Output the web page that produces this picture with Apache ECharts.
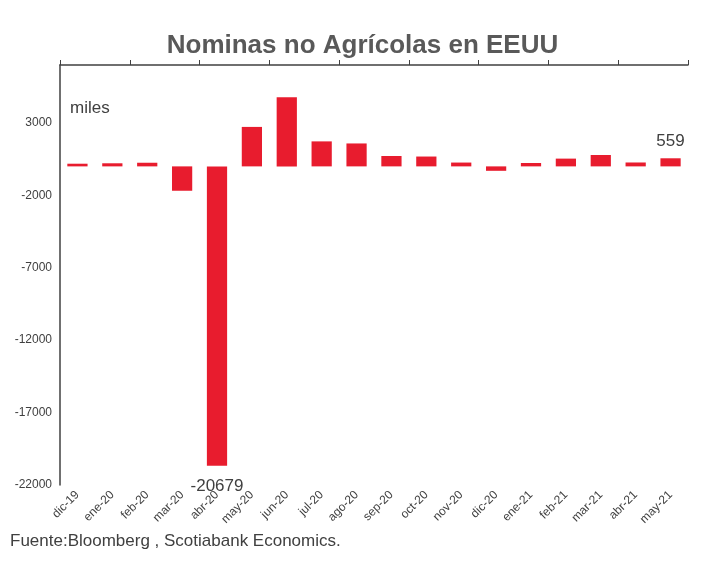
<!DOCTYPE html>
<html>
<head>
<meta charset="utf-8">
<script src="https://cdn.jsdelivr.net/npm/echarts@6/dist/echarts.min.js"></script>
<style>html,body{margin:0;padding:0;background:#fff}#main{width:725px;height:567px}</style>
</head>
<body>
<div id="main"></div>
<script>
var myChart = echarts.init(document.getElementById('main'));
var categories = ['dic-19','ene-20','feb-20','mar-20','abr-20','may-20','jun-20','jul-20','ago-20','sep-20','oct-20','nov-20','dic-20','ene-21','feb-21','mar-21','abr-21','may-21'];
var values = [184, 214, 251, -1683, -20679, 2725, 4781, 1726, 1583, 716, 680, 264, -306, 233, 536, 785, 269, 559];
var labelled = ['abr-20', 'may-21']; // solo estos llevan etiqueta

var seriesData = values.map(function (v, i) {
    var item = { value: v };
    if (labelled.indexOf(categories[i]) >= 0) {
        item.label = {
            show: true,
            position: v < 0 ? 'bottom' : 'top',
            distance: v < 0 ? 12 : 8,
            color: '#404040',
            fontSize: 17,
            fontFamily: 'Liberation Sans'
        };
    }
    return item;
});

option = {
    animation: false,
    title: {
        text: 'Nominas no Agrícolas en EEUU',
        left: 'center',
        top: 28,
        textStyle: { color: '#595959', fontSize: 26, fontWeight: 'bold', fontFamily: 'Liberation Sans' }
    },
    graphic: [
        { type: 'text', left: 70, top: 100, style: { text: 'miles', fill: '#404040', font: '17px Liberation Sans' } },
        { type: 'text', left: 10, top: 533, style: { text: 'Fuente:Bloomberg , Scotiabank Economics.', fill: '#404040', font: '17px Liberation Sans' } }
    ],
    grid: { left: 60, right: 37, top: 65, bottom: 82 },
    xAxis: [{
        type: 'category',
        data: categories,
        position: 'bottom',
        axisLine: { show: false },
        axisTick: { show: false },
        axisLabel: { rotate: 45, color: '#404040', fontSize: 12, fontFamily: 'Liberation Sans', interval: 0, margin: 8 }
    }, {
        type: 'category',
        data: categories,
        axisLine: { onZero: true, lineStyle: { color: '#404040', width: 1.5 } },
        axisTick: { show: true, inside: false, length: 5, lineStyle: { color: '#404040' } },
        axisLabel: { show: false }
    }],
    yAxis: {
        type: 'value',
        min: -22000,
        max: 7000,
        interval: 5000,
        splitLine: { show: false },
        axisLine: { show: true, lineStyle: { color: '#404040', width: 1.5 } },
        axisTick: { show: false },
        axisLabel: {
            color: '#404040', fontSize: 12, fontFamily: 'Liberation Sans',
            formatter: function (v) { return v > 3000 ? '' : v; }
        }
    },
    series: [{
        type: 'bar',
        data: seriesData,
        barWidth: '58%',
        itemStyle: { color: '#E81C2E' }
    }]
};
myChart.setOption(option);
</script>
</body>
</html>
